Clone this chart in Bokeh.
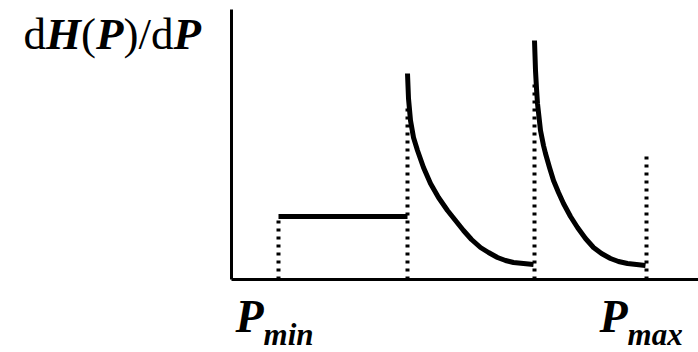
from bokeh.plotting import figure
from bokeh.models import Range1d
from bokeh.core.properties import value
from bokeh.embed import file_html
from bokeh.resources import INLINE

# ---- data (schematic units, origin at the axes corner) ----
p_edges = [47, 176, 303, 415]          # P_min, P1, P2, P_max
dotted_tops = [63, 175, 200, 127]
flat_level = 63                         # constant dH/dP on [P_min, P1]
curve1_x = [176, 177, 179, 182, 186, 192, 199, 207, 216, 224, 232, 240, 249, 257, 266, 274, 282, 292, 302]
curve1_y = [206, 181, 159, 142, 129, 112, 96, 82, 69, 59, 49, 40, 32, 27, 22, 19, 17, 16, 15]
curve2_x = [303, 304, 305, 306, 309, 312, 314, 318, 322, 327, 332, 339, 346, 354, 362, 370, 379, 387, 396, 405, 414]
curve2_y = [239, 209, 191, 176, 149, 134, 126, 112, 99, 87, 76, 63, 52, 41, 32, 26, 21, 18, 16, 15, 14]
axis_top = 270
axis_right = 467

ylabel_parts = ["d", "H", "(", "P", ")", "/d", "P"]
ylabel_bold = [False, True, False, True, False, False, True]
tick_main = ["P", "P"]
tick_sub = ["min", "max"]
tick_x = [4, 368]

FONT = "Liberation Serif"
W_REG = {"d": 0.5, "(": 0.333, ")": 0.333, "/": 0.278}
W_BI = {"H": 0.778, "P": 0.611}

p = figure(width=698, height=352,
           x_range=Range1d(-231, 467), y_range=Range1d(-73, 279),
           output_backend="svg", toolbar_location=None,
           x_axis_type=None, y_axis_type=None, min_border=0)
p.outline_line_color = None
p.background_fill_color = "white"
p.border_fill_color = "white"

# axes
p.line([0, 0], [0, axis_top], line_width=3, color="black")
p.line([0, axis_right], [0, 0], line_width=3, color="black")

# dotted verticals
p.segment(x0=p_edges, y0=[0] * len(p_edges), x1=p_edges, y1=dotted_tops,
          line_width=4, line_dash="3 5", color="black")

# flat part and the two decaying parts
p.line([p_edges[0], p_edges[1]], [flat_level, flat_level], line_width=5, color="black")
p.line(curve1_x, curve1_y, line_width=5, color="black", line_join="round")
p.line(curve2_x, curve2_y, line_width=5, color="black", line_join="round")

# "dH(P)/dP"
fs = 45
x = -208.0
for part, bold in zip(ylabel_parts, ylabel_bold):
    p.text(x=[x], y=[245.5], text=[part], text_font=value(FONT),
           text_font_size=f"{fs}px",
           text_font_style="bold italic" if bold else "normal",
           text_baseline="alphabetic", text_align="left", color="black")
    x += (W_BI[part] if bold else sum(W_REG[c] for c in part)) * fs

# P_min / P_max
fs_main = 46
fs_sub = 31
for tx, m, s in zip(tick_x, tick_main, tick_sub):
    p.text(x=[tx], y=[-36.5], text=[m], text_font=value(FONT),
           text_font_size=f"{fs_main}px", text_font_style="bold italic",
           text_baseline="alphabetic", text_align="left", color="black")
    p.text(x=[tx + W_BI["P"] * fs_main], y=[-54.8], text=[s], text_font=value(FONT),
           text_font_size=f"{fs_sub}px", text_font_style="bold italic",
           text_baseline="alphabetic", text_align="left", color="black")

open("out.html", "w").write(file_html(p, INLINE))
